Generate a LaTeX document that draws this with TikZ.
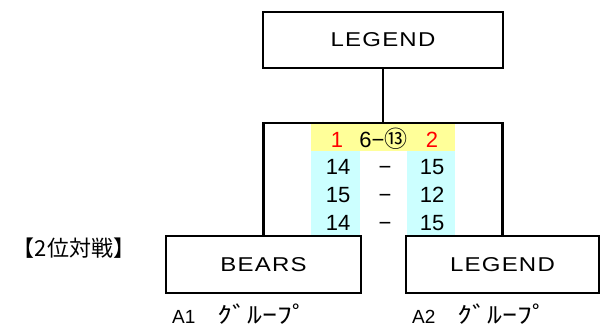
\documentclass[tikz,border=0pt]{standalone}
\usepackage{fontspec}
\setmainfont{Liberation Sans}
\newfontfamily\jp{Noto Sans CJK JP}
\newfontfamily\jpwide[FakeStretch=1.3]{Noto Sans CJK JP}
\newfontfamily\widefont[FakeStretch=1.2,LetterSpace=6]{Liberation Sans}
\definecolor{hdr}{HTML}{FFFF99}
\definecolor{cyn}{HTML}{CCFFFF}
\definecolor{redtxt}{HTML}{FF0000}
\begin{document}
\begin{tikzpicture}[x=1pt,y=-1pt,
  team/.style={draw=black,line width=2.8pt,inner sep=0pt,
    font=\widefont\fontsize{20}{20}\selectfont},
  conn/.style={draw=black,line width=2.8pt,line join=miter},
  cell/.style={inner sep=0pt,outer sep=0pt},
  num/.style={inner sep=0pt,anchor=base,font=\fontsize{22}{22}\selectfont},
  jlabel/.style={inner sep=0pt,anchor=base west,font=\fontsize{19}{19}\selectfont}]
\useasboundingbox (0,0) rectangle (602,327);
% table cells
\node[cell,fill=hdr,minimum width=144pt,minimum height=28pt] (hdrrow) at (383,137) {};
\node[cell,fill=cyn,minimum width=49pt,minimum height=85pt] (colA) at (335.5,193.5) {};
\node[cell,fill=cyn,minimum width=48pt,minimum height=85pt] (colB) at (431,193.5) {};
% boxes
\node[team,minimum width=240pt,minimum height=56pt] (top) at (383,40) {LEGEND};
\node[team,minimum width=195pt,minimum height=57pt] (bears) at (263.5,264.5) {BEARS};
\node[team,minimum width=193pt,minimum height=57pt] (legend) at (502.5,264.5) {LEGEND};
% connectors
\coordinate (j) at (383,123);
\draw[conn] (top.south) -- (j);
\draw[conn] (bears.north) |- (j) -| (legend.north);
% table texts
\node[num,text=redtxt] (h1) at (337,147) {1};
\node[num] (hm) at (383.5,147) {6−{\jp\fontsize{23}{23}\selectfont ⑬}};
\node[num,text=redtxt] (h2) at (432,147) {2};
\node[num] (a1) at (338,174) {14};
\node[num] (d1) at (385,174) {−};
\node[num] (b1) at (432,174) {15};
\node[num] (a2) at (338,202) {15};
\node[num] (d2) at (385,202) {−};
\node[num] (b2) at (432,202) {12};
\node[num] (a3) at (338,230) {14};
\node[num] (d3) at (385,230) {−};
\node[num] (b3) at (432,230) {15};
% labels
\node[inner sep=0pt,font=\jp\fontsize{22}{22}\selectfont] (round) at (74,248) {【2位対戦】};
\node[jlabel] (g1) at (172,323) {A1{\jpwide\fontsize{23}{23}\selectfont\hspace{22pt}ｸﾞﾙｰﾌﾟ}};
\node[jlabel] (g2) at (412,323) {A2{\jpwide\fontsize{23}{23}\selectfont\hspace{22pt}ｸﾞﾙｰﾌﾟ}};
\end{tikzpicture}
\end{document}
